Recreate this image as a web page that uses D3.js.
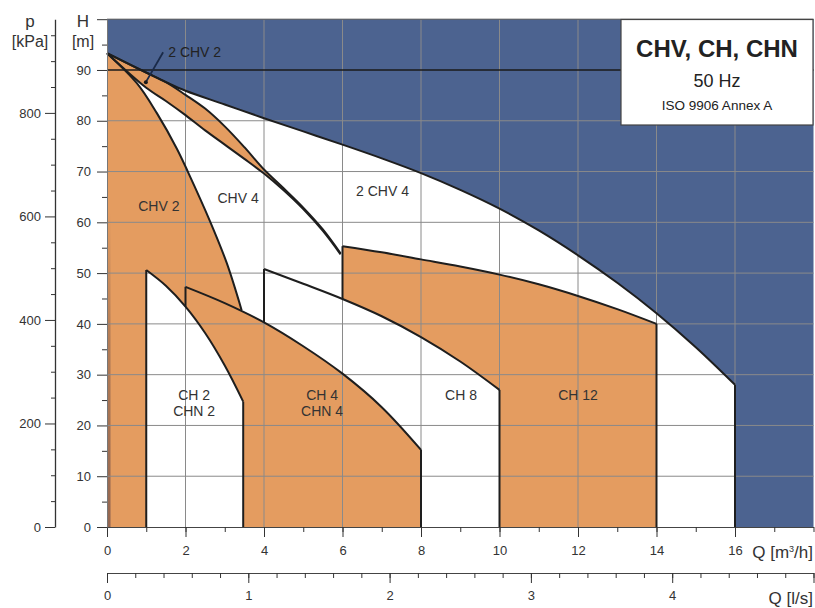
<!DOCTYPE html>
<html>
<head>
<meta charset="utf-8">
<script src="https://cdn.jsdelivr.net/npm/d3@7"></script>
<style>
  body { margin: 0; background: #fff; }
  #chart text { font-family: "Liberation Sans", Arial, sans-serif; fill: #333; }
</style>
</head>
<body>
<div id="chart"></div>
<script>

// outer envelope of the whole range, blue above it
var envQ = [0, 0.75, 1.5, 2, 3, 4, 5, 6, 7, 8, 9, 10, 11, 12, 13, 14, 15, 16],
    envH = [93.3, 90.4, 87.6, 85.9, 83.2, 80.5, 77.9, 75.3, 72.6, 69.7, 66.4, 62.7, 58.4, 53.5, 48.1, 42.1, 35.4, 28];

// 2 CHV 2 band (top and bottom edge)
var bandQ    = [0, 1, 1.5, 2, 2.5, 3, 3.5, 4, 4.5, 5, 5.5, 5.95],
    bandTopH = [93.3, 89.5, 87.6, 85.1, 82.4, 78.9, 74.8, 70.4, 66.7, 62.9, 58.6, 53.9],
    bandLowH = [93.3, 86.5, 83.9, 81.1, 78.1, 75.3, 72.5, 69.6, 66.3, 62.6, 58.3, 53.7];

// CHV 2 right boundary
var chv2Q = [0, 0.76, 1.27, 1.78, 2.07, 2.62, 3.05, 3.43],
    chv2H = [93.3, 87.4, 81.5, 74.5, 69.8, 60.3, 52.0, 42.7];

var ch2Q  = [1, 1.5, 2, 2.5, 3, 3.47],
    ch2H  = [50.6, 47.5, 43.4, 38.2, 31.8, 24.7];
var ch4Q  = [2, 3, 4, 5, 6, 7, 8],
    ch4H  = [47.3, 44.1, 40.3, 35.6, 30.2, 23.6, 15.2];
var ch8Q  = [4, 5, 6, 7, 8, 9, 10],
    ch8H  = [50.8, 47.9, 44.9, 41.5, 37.4, 32.6, 27];
var ch12Q = [6, 7, 8, 9, 10, 11, 12, 13, 14],
    ch12H = [55.3, 54.1, 52.7, 51.3, 49.7, 47.8, 45.5, 42.9, 40];

// tick labels
var qTicks  = [0, 2, 4, 6, 8, 10, 12, 14, 16],
    lsTicks = [0, 1, 2, 3, 4, 5],
    hTicks  = [0, 10, 20, 30, 40, 50, 60, 70, 80, 90, 100],
    pTicks  = [0, 200, 400, 600, 800];

var regionLabels = [
  {lines: ["CHV 2"], q: 1.32, h: 63.2},
  {lines: ["CHV 4"], q: 3.34, h: 64.8},
  {lines: ["2 CHV 4"], q: 7.02, h: 66.2},
  {lines: ["CH 2", "CHN 2"], q: 2.22, h: 26},
  {lines: ["CH 4", "CHN 4"], q: 5.48, h: 26},
  {lines: ["CH 8"], q: 9.02, h: 26},
  {lines: ["CH 12"], q: 12.0, h: 26}
];

var blue = "#4c6390", orange = "#e49c60", ink = "#1e1e1e";

var svg = d3.select("#chart").append("svg")
    .attr("width", 815)
    .attr("height", 608);

var x  = d3.scaleLinear().domain([0, 18]).range([107, 813.5]),
    y  = d3.scaleLinear().domain([0, 100]).range([527, 19.2]),
    xl = d3.scaleLinear().domain([0, 5]).range([107, 813.5]),     // l/s
    yp = d3.scaleLinear().domain([0, 981]).range([527, 19.2]);    // kPa

var curve = d3.curveCatmullRom.alpha(0.5);

function pts(Q, H) { return Q.map(function(q, i) { return [q, H[i]]; }); }

var area = d3.area()
    .x(function(d) { return x(d[0]); })
    .y0(y(0))
    .y1(function(d) { return y(d[1]); })
    .curve(curve);

var line = d3.line()
    .x(function(d) { return x(d[0]); })
    .y(function(d) { return y(d[1]); })
    .curve(curve);

// value of a curve at q (piecewise linear)
function at(Q, H, q) { return d3.scaleLinear().domain(Q).range(H)(q); }

// gradient for the dark strip at the left
var grad = svg.append("defs").append("linearGradient")
    .attr("id", "strip")
    .attr("x1", 0).attr("y1", 0).attr("x2", 0).attr("y2", 1);
grad.append("stop").attr("offset", "0%").attr("stop-color", orange);
grad.append("stop").attr("offset", "40%").attr("stop-color", "#b57d55");
grad.append("stop").attr("offset", "100%").attr("stop-color", "#946650");

// fills
var fills = svg.append("g");

fills.append("rect")
    .attr("x", x(0)).attr("y", y(100))
    .attr("width", x(18) - x(0)).attr("height", y(0) - y(100))
    .attr("fill", blue);

fills.append("path").datum(pts(envQ, envH)).attr("d", area).attr("fill", "#fff");
fills.append("path").datum(pts(ch12Q, ch12H)).attr("d", area).attr("fill", orange);
fills.append("path").datum(pts(ch8Q, ch8H)).attr("d", area).attr("fill", "#fff");
fills.append("path").datum(pts(chv2Q, chv2H)).attr("d", area).attr("fill", orange);
fills.append("path").datum(pts(ch4Q, ch4H)).attr("d", area).attr("fill", orange);
fills.append("path").datum(pts(ch2Q, ch2H)).attr("d", area).attr("fill", "#fff");

fills.append("path")
    .datum(bandQ.map(function(q, i) { return [q, bandLowH[i], bandTopH[i]]; }))
    .attr("d", d3.area()
        .x(function(d) { return x(d[0]); })
        .y0(function(d) { return y(d[1]); })
        .y1(function(d) { return y(d[2]); })
        .curve(curve))
    .attr("fill", orange);

fills.append("rect")
    .attr("x", x(0)).attr("y", y(62))
    .attr("width", x(0.09) - x(0)).attr("height", y(0) - y(62))
    .attr("fill", "url(#strip)");

// grid
var grid = svg.append("g");

grid.selectAll(".vg")
    .data(d3.range(2, 17, 2))
    .enter().append("line")
      .attr("x1", function(d) { return x(d); })
      .attr("x2", function(d) { return x(d); })
      .attr("y1", y(0)).attr("y2", y(100))
      .attr("stroke", "#8a8a8a").attr("stroke-width", 1);

grid.selectAll(".hg")
    .data(d3.range(10, 101, 10))
    .enter().append("line")
      .attr("x1", x(0)).attr("x2", x(18))
      .attr("y1", function(d) { return y(d); })
      .attr("y2", function(d) { return y(d); })
      .attr("stroke", function(d) { return d == 90 ? "#1a1a1a" : d == 100 ? "#555" : "#8a8a8a"; })
      .attr("stroke-width", function(d) { return d == 90 ? 1.3 : 1; });

// outlines
var lines = svg.append("g")
    .attr("fill", "none")
    .attr("stroke", ink)
    .attr("stroke-width", 2)
    .attr("stroke-linejoin", "round");

[[envQ, envH], [ch12Q, ch12H], [ch8Q, ch8H], [ch4Q, ch4H], [ch2Q, ch2H],
 [chv2Q, chv2H], [bandQ, bandTopH], [bandQ, bandLowH]].forEach(function(c) {
  lines.append("path").datum(pts(c[0], c[1])).attr("d", line);
});

function edge(q, h0, h1) {
  lines.append("line")
      .attr("x1", x(q)).attr("x2", x(q))
      .attr("y1", y(h0)).attr("y2", y(h1));
}

edge(envQ[envQ.length - 1], 0, envH[envH.length - 1]);
edge(ch12Q[0], at(ch8Q, ch8H, ch12Q[0]), ch12H[0]);
edge(ch12Q[ch12Q.length - 1], 0, ch12H[ch12H.length - 1]);
edge(ch8Q[0], at(ch4Q, ch4H, ch8Q[0]), ch8H[0]);
edge(ch8Q[ch8Q.length - 1], 0, ch8H[ch8H.length - 1]);
edge(ch4Q[0], at(ch2Q, ch2H, ch4Q[0]), ch4H[0]);
edge(ch4Q[ch4Q.length - 1], 0, ch4H[ch4H.length - 1]);
edge(ch2Q[0], 0, ch2H[0]);
edge(ch2Q[ch2Q.length - 1], 0, ch2H[ch2H.length - 1]);

// region labels
regionLabels.forEach(function(l) {
  var t = svg.append("text")
      .attr("x", x(l.q))
      .attr("y", y(l.h))
      .style("text-anchor", "middle")
      .attr("font-size", "14px");
  l.lines.forEach(function(s, i) {
    t.append("tspan").attr("x", x(l.q)).attr("dy", i == 0 ? "0.35em" : "1.15em").text(s);
  });
});

// 2 CHV 2 label with leader
svg.append("line")
    .attr("x1", x(1.43)).attr("y1", y(93.5))
    .attr("x2", x(0.99)).attr("y2", y(87.6))
    .attr("stroke", "#1a2a48").attr("stroke-width", 1.8);
svg.append("circle")
    .attr("cx", x(0.99)).attr("cy", y(87.6)).attr("r", 2)
    .attr("fill", "#1a1a1a");
svg.append("text")
    .attr("x", x(1.56)).attr("y", y(92.6))
    .text("2 CHV 2")
    .attr("font-size", "14px")
    .style("fill", "#222");

// axes
function styleAxis(g, size) {
  g.attr("font-family", null).attr("font-size", null);
  g.selectAll("text").attr("font-size", size || "13px");
  g.selectAll(".tick line").attr("stroke", "#333");
  g.select(".domain").attr("stroke", "#444");
}

var xAxis = svg.append("g")
    .attr("transform", "translate(0," + y(0) + ")")
    .call(d3.axisBottom(x).tickValues(d3.range(1, 18.5, 1)).tickSize(5).tickSizeOuter(0).tickFormat(""));
styleAxis(xAxis);
svg.append("g")
    .attr("transform", "translate(0," + y(0) + ")")
    .call(d3.axisBottom(x).tickValues(qTicks).tickSize(10).tickSizeOuter(0).tickPadding(9))
    .call(styleAxis)
    .select(".domain").remove();

var lsAxis = svg.append("g")
    .attr("transform", "translate(0,573)")
    .call(d3.axisBottom(xl).tickValues(d3.range(0, 5.01, 0.2)).tickSize(5).tickSizeOuter(0).tickFormat(""));
styleAxis(lsAxis);
svg.append("g")
    .attr("transform", "translate(0,573)")
    .call(d3.axisBottom(xl).tickValues(lsTicks).tickSize(10).tickSizeOuter(0).tickPadding(8)
        .tickFormat(function(d) { return d < 5 ? d : ""; }))
    .call(styleAxis)
    .select(".domain").remove();

var hAxis = svg.append("g")
    .attr("transform", "translate(" + x(0) + ",0)")
    .call(d3.axisLeft(y).tickValues(d3.range(5, 100, 10)).tickSize(5).tickSizeOuter(0).tickFormat(""));
styleAxis(hAxis);
hAxis.select(".domain").attr("stroke", "#777");
svg.append("g")
    .attr("transform", "translate(" + x(0) + ",0)")
    .call(d3.axisLeft(y).tickValues(hTicks).tickSize(10).tickSizeOuter(0).tickPadding(6)
        .tickFormat(function(d) { return d < 100 ? d : ""; }))
    .call(styleAxis)
    .select(".domain").remove();

var pAxis = svg.append("g")
    .attr("transform", "translate(55,0)")
    .call(d3.axisLeft(yp).tickValues(d3.range(50, 1000, 50).filter(function(d) { return d % 200 != 0; }))
        .tickSize(4).tickSizeOuter(0).tickFormat(""));
styleAxis(pAxis);
pAxis.select(".domain").attr("stroke", "#333").attr("stroke-width", 1.3);
svg.append("g")
    .attr("transform", "translate(55,0)")
    .call(d3.axisLeft(yp).tickValues(pTicks).tickSize(10).tickSizeOuter(0).tickPadding(4))
    .call(styleAxis)
    .select(".domain").remove();

// axis titles
svg.append("text").attr("x", 30).attr("y", 27).style("text-anchor", "middle").attr("font-size", "17px").text("p");
svg.append("text").attr("x", 30).attr("y", 47).style("text-anchor", "middle").attr("font-size", "16px").text("[kPa]");
svg.append("text").attr("x", 83).attr("y", 27).style("text-anchor", "middle").attr("font-size", "17px").text("H");
svg.append("text").attr("x", 83).attr("y", 47).style("text-anchor", "middle").attr("font-size", "16px").text("[m]");

var qt = svg.append("text").attr("x", 813).attr("y", 558).style("text-anchor", "end").attr("font-size", "17px");
qt.append("tspan").text("Q [m");
qt.append("tspan").attr("font-size", "9px").attr("dy", -6).text("3");
qt.append("tspan").attr("dy", 6).text("/h]");

svg.append("text").attr("x", 813).attr("y", 604).style("text-anchor", "end").attr("font-size", "17px").text("Q [l/s]");

// title box
svg.append("rect")
    .attr("x", 621).attr("y", 19.5)
    .attr("width", 192).attr("height", 105.5)
    .attr("fill", "#fff")
    .attr("stroke", "#444")
    .attr("stroke-width", 1.2);
svg.append("text").attr("x", 717).attr("y", 57).style("text-anchor", "middle")
    .attr("font-size", "24px").attr("font-weight", "bold").style("fill", "#222").text("CHV, CH, CHN");
svg.append("text").attr("x", 717).attr("y", 87).style("text-anchor", "middle")
    .attr("font-size", "18px").style("fill", "#222").text("50 Hz");
svg.append("text").attr("x", 717).attr("y", 110).style("text-anchor", "middle")
    .attr("font-size", "13.5px").style("fill", "#222").text("ISO 9906 Annex A");

</script>
</body>
</html>
